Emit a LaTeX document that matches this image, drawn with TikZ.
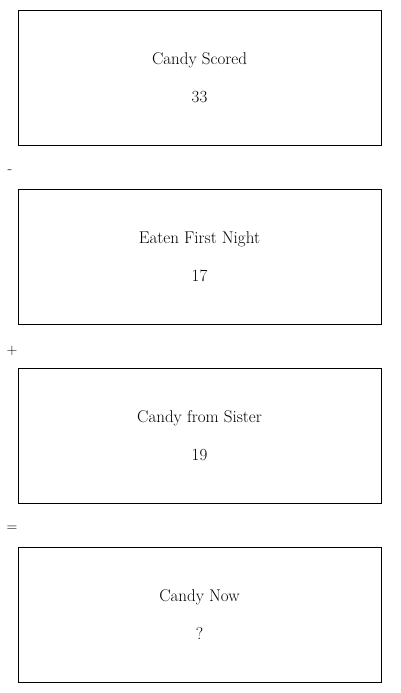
\documentclass[tikz,border=0pt]{standalone}
\usetikzlibrary{positioning}

\begin{document}
\begin{tikzpicture}
             %% setup
             [
                 x=1pt, y=1pt,
                 node distance=44pt,
                 stepbox/.style={rectangle, draw=black, line width=0.8pt, outer sep=0pt, minimum width=363pt, minimum height=135pt, align=center, font=\fontsize{17}{38}\selectfont},
                 opnode/.style={inner sep=0pt, font=\fontsize{15}{18}\selectfont},
             ]
                 \useasboundingbox (0,0) rectangle (400,-693);

                 %% Nodes
                 \node [stepbox] (scored) at (199.5,-77.5) {Candy Scored\\33};
                 \node [stepbox] (eaten) [below=of scored] {Eaten First Night\\17};
                 \node [stepbox] (sister) [below=of eaten] {Candy from Sister\\19};
                 \node [stepbox] (now) [below=of sister] {Candy Now\\?};

                 %% Operators
                 \node [opnode] (minus) at (10,-172) {-};
                 \node [opnode] (plus) at (12,-351) {+};
                 \node [opnode] (equals) at (12,-529) {=};

\end{tikzpicture}
\end{document}
